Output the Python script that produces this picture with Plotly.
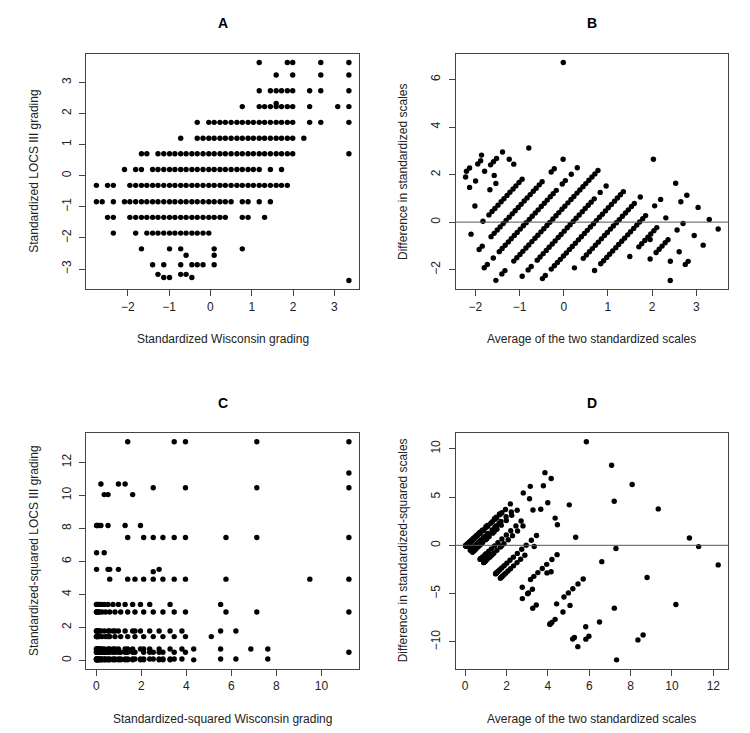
import numpy as np
import plotly.graph_objects as go

# Standardized LOCS III grade levels (rows of panel A)
locs_levels = [3.64, 3.235, 2.73, 2.22, 2.32, 1.715, 1.204, 0.707, 0.20, -0.31,
               -0.837, -1.338, -1.844, -2.35, -2.555, -2.86, -3.17, -3.27, -3.37]

# Standardized Wisconsin grades observed at each LOCS level
wisconsin_rows = [
    [1.18, 1.86, 1.99, 2.67, 3.35],
    [1.59, 1.99, 2.67, 3.35],
    [1.18, 1.45, 1.59, 1.72, 1.86, 1.99, 2.40, 2.67, 3.35],
    [0.77, 1.18, 1.31, 1.45, 1.59, 1.72, 1.86, 1.99, 2.40, 3.08, 3.35],
    [1.59],
    [-0.32, -0.04, 0.09, 0.23, 0.36, 0.50, 0.64, 0.77, 0.91, 1.04, 1.18, 1.31, 1.45,
     1.59, 1.72, 1.86, 1.99, 2.40, 2.67, 3.35],
    [-0.72, -0.32, -0.18, -0.04, 0.09, 0.23, 0.36, 0.50, 0.64, 0.77, 0.91, 1.04, 1.18,
     1.31, 1.45, 1.59, 1.72, 1.86, 1.99, 2.26],
    [-1.67, -1.54, -1.27, -1.13, -0.99, -0.86, -0.72, -0.59, -0.45, -0.32, -0.18, -0.04,
     0.09, 0.23, 0.36, 0.50, 0.64, 0.77, 0.91, 1.04, 1.18, 1.31, 1.45, 1.59, 1.72, 1.86,
     1.99, 3.35],
    [-2.08, -1.81, -1.67, -1.40, -1.27, -1.13, -0.99, -0.86, -0.72, -0.59, -0.45, -0.32,
     -0.18, -0.04, 0.09, 0.23, 0.36, 0.50, 0.64, 0.77, 0.91, 1.04, 1.18, 1.45, 1.72],
    [-2.76, -2.49, -2.35, -1.95, -1.81, -1.67, -1.54, -1.40, -1.27, -1.13, -0.99, -0.86,
     -0.72, -0.59, -0.45, -0.32, -0.18, -0.04, 0.09, 0.23, 0.36, 0.50, 0.64, 0.77, 0.91,
     1.04, 1.18, 1.31, 1.45, 1.59, 1.72, 1.86],
    [-2.76, -2.62, -2.35, -2.08, -1.95, -1.81, -1.67, -1.54, -1.40, -1.27, -1.13, -0.99,
     -0.86, -0.72, -0.59, -0.45, -0.32, -0.18, -0.04, 0.09, 0.23, 0.36, 0.50, 0.77, 0.91,
     1.18, 1.45],
    [-2.49, -2.35, -1.95, -1.81, -1.67, -1.54, -1.40, -1.27, -1.13, -0.99, -0.86, -0.72,
     -0.59, -0.45, -0.32, -0.18, -0.04, 0.09, 0.23, 0.36, 0.77, 0.91, 1.31],
    [-2.35, -1.81, -1.54, -1.40, -1.27, -1.13, -0.99, -0.86, -0.72, -0.59, -0.45, -0.32,
     -0.18, -0.04],
    [-1.67, -0.99, -0.72, 0.09, 0.77],
    [-0.59, 0.09],
    [-1.40, -1.13, -0.72, -0.45, -0.32, -0.18, 0.09],
    [-1.27, -0.72, -0.59],
    [-1.13, -0.99, -0.45],
    [3.35],
]

panel_letters = ["A", "B", "C", "D"]
x_titles = ["Standardized Wisconsin grading", "Average of the two standardized scales",
            "Standardized-squared Wisconsin grading", "Average of the two standardized scales"]
y_titles = ["Standardized LOCS III grading", "Difference in standardized scales",
            "Standardized-squared LOCS III grading", "Difference in standardized-squared scales"]
x_ticks = [[-2, -1, 0, 1, 2, 3], [-2, -1, 0, 1, 2, 3], [0, 2, 4, 6, 8, 10],
           [0, 2, 4, 6, 8, 10, 12]]
y_ticks = [[-3, -2, -1, 0, 1, 2, 3], [-2, 0, 2, 4, 6], [0, 2, 4, 6, 8, 10, 12],
           [-10, -5, 0, 5, 10]]

W = np.array([x for row in wisconsin_rows for x in row])
L = np.array([lv for lv, row in zip(locs_levels, wisconsin_rows) for _ in row])
W2, L2 = W ** 2, L ** 2
series = [
    (W, L),
    ((W + L) / 2, W - L),
    (W2, L2),
    ((W2 + L2) / 2, W2 - L2),
]

FIG_W, FIG_H = 750, 733
col_px = [(78.3, 351.0), (447.5, 720.3)]
row_px = [(45.7, 281.3), (425.0, 660.6)]

def rrange(v):
    lo, hi = float(np.min(v)), float(np.max(v))
    d = (hi - lo) * 0.04
    return [lo - d, hi + d]

FONT = "Liberation Sans, Arial, Helvetica, sans-serif"
fig = go.Figure()
ann = []
shapes = []
for i in range(4):
    r, c = divmod(i, 2)
    xs, ys = series[i]
    ax = "" if i == 0 else str(i + 1)
    fig.add_trace(go.Scatter(x=xs, y=ys, mode="markers", xaxis="x" + ax, yaxis="y" + ax,
                             marker=dict(color="black", size=5.4, line=dict(width=0)),
                             showlegend=False, hoverinfo="skip"))
    x0, x1 = col_px[c]
    y0, y1 = row_px[r]
    common = dict(showline=True, mirror=True, linecolor="#444", linewidth=1,
                  ticks="outside", ticklen=6, tickcolor="#444", tickwidth=1,
                  showgrid=False, zeroline=False,
                  tickfont=dict(family=FONT, size=12, color="#222"))
    fig.update_layout(**{
        "xaxis" + ax: dict(domain=[x0 / FIG_W, x1 / FIG_W], anchor="y" + ax,
                           range=rrange(xs), tickvals=x_ticks[i], **common),
        "yaxis" + ax: dict(domain=[1 - y1 / FIG_H, 1 - y0 / FIG_H], anchor="x" + ax,
                           range=rrange(ys), tickvals=y_ticks[i], tickangle=-90,
                           ticklabelstandoff=4, **common),
    })
    cx = (x0 + x1) / 2
    cy = (y0 + y1) / 2
    base = dict(xref="paper", yref="paper", showarrow=False, xanchor="center",
                yanchor="middle")
    ann.append(dict(text="<b>" + panel_letters[i] + "</b>", x=cx / FIG_W,
                    y=1 - (y0 - 30.5) / FIG_H,
                    font=dict(family=FONT, size=14, color="black"), **base))
    ann.append(dict(text=x_titles[i], x=cx / FIG_W, y=1 - (y1 + 50) / FIG_H,
                    font=dict(family=FONT, size=12, color="#222"), **base))
    ann.append(dict(text=y_titles[i], x=(x0 - 53) / FIG_W, y=1 - cy / FIG_H,
                    textangle=-90, font=dict(family=FONT, size=12, color="#222"), **base))
    if i in (1, 3):
        shapes.append(dict(type="line", xref="x" + ax + " domain", yref="y" + ax,
                           x0=0, x1=1, y0=0, y1=0, line=dict(color="#555", width=1)))

fig.update_layout(width=FIG_W, height=FIG_H, margin=dict(l=0, r=0, t=0, b=0),
                  paper_bgcolor="white", plot_bgcolor="white",
                  annotations=ann, shapes=shapes, showlegend=False)
fig.write_html("out.html")
